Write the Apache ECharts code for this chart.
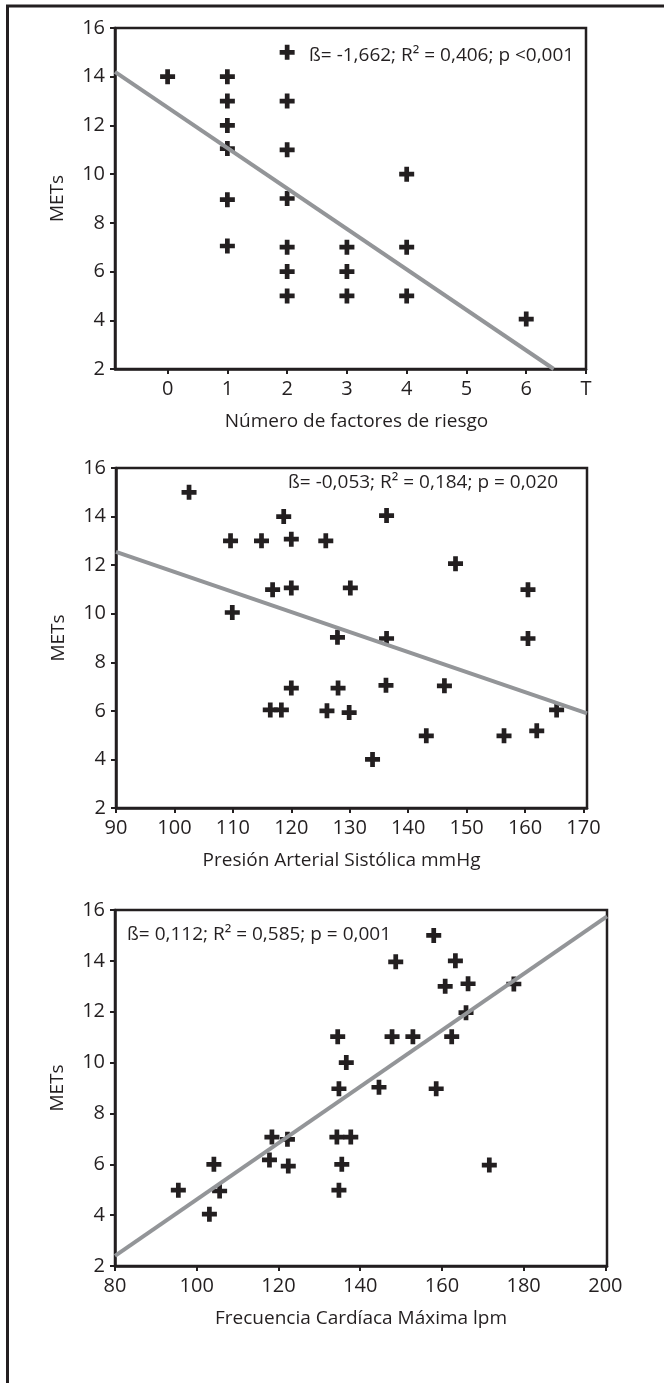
<!DOCTYPE html>
<html><head><meta charset="utf-8">
<script src="https://cdn.jsdelivr.net/npm/echarts@6/dist/echarts.min.js"></script>
<style>html,body{margin:0;padding:0;background:#fff}#c{width:664px;height:1383px}</style>
</head><body><div id="c"></div>
<script>
// ---- Chart 1: Número de factores de riesgo vs METs
const riskX = [0, 1, 1, 1, 1, 1, 1, 2, 2, 2, 2, 2, 2, 2, 3, 3, 3, 4, 4, 4, 6];
const riskY = [14, 14, 13, 12, 11.05, 8.95, 7.05, 15, 13, 11, 9, 7, 6, 5, 7, 6, 5, 10, 7, 5, 4.05];
const riskTicks = [0, 1, 2, 3, 4, 5, 6, 7];
const riskTickLabels = ['0', '1', '2', '3', '4', '5', '6', 'T'];
const riskFitX = [-0.88, 6.46];
const riskFitY = [14.2, 2];
const riskStat = 'ß= -1,662; R² = 0,406; p <0,001';

// ---- Chart 2: Presión Arterial Sistólica vs METs
const pasX = [102.5, 109.6, 114.9, 118.7, 120.0, 125.9, 136.3, 148.1, 116.8, 120.0, 130.1, 109.9, 160.5, 127.9, 136.3, 160.5, 120.0, 128.0, 136.2, 146.2, 116.4, 118.3, 126.1, 129.9, 165.4, 133.9, 143.1, 156.4, 162.0];
const pasY = [15.0, 13.0, 13.0, 14.0, 13.07, 13.0, 14.04, 12.06, 10.99, 11.06, 11.06, 10.05, 10.99, 9.03, 8.98, 8.98, 6.94, 6.94, 7.05, 7.03, 6.04, 6.04, 6.0, 5.93, 6.04, 4.0, 4.97, 4.97, 5.18];
const pasTicks = [90, 100, 110, 120, 130, 140, 150, 160, 170];
const pasFitX = [90, 170.6];
const pasFitY = [12.55, 5.9];
const pasStat = 'ß= -0,053; R² = 0,184; p = 0,020';

// ---- Chart 3: Frecuencia Cardíaca Máxima vs METs
const fcX = [95.5, 104.2, 105.6, 103.1, 118.4, 117.8, 122.2, 122.4, 134.5, 136.6, 134.8, 134.3, 137.7, 135.5, 134.8, 144.6, 147.8, 152.9, 148.7, 158.0, 163.3, 160.8, 166.4, 165.9, 162.4, 158.6, 171.6, 177.6];
const fcY = [4.98, 6.0, 4.95, 4.04, 7.07, 6.17, 6.98, 5.93, 11.02, 10.0, 8.97, 7.07, 7.07, 6.0, 4.98, 9.03, 11.02, 11.02, 13.96, 15.0, 14.0, 13.0, 13.1, 11.96, 11.02, 8.97, 5.97, 13.09];
const fcTicks = [80, 100, 120, 140, 160, 180, 200];
const fcFitX = [80, 200.4];
const fcFitY = [2.4, 15.75];
const fcStat = 'ß= 0,112; R² = 0,585; p = 0,001';

const yTicksMin = 2, yTicksMax = 16, yInterval = 2;
const yName = 'METs';
const xNames = ['Número de factores de riesgo', 'Presión Arterial Sistólica mmHg', 'Frecuencia Cardíaca Máxima lpm'];

const ink = '#231f20';
const fitColor = '#939598';
const FONT = 'Open Sans';
const plus = 'path://M4.8,0H9.2V4.8H14V9.2H9.2V14H4.8V9.2H0V4.8H4.8Z';

const grids = [
  {left: 115, top: 28, width: 471, height: 341},
  {left: 116, top: 468, width: 471, height: 340},
  {left: 115, top: 910, width: 492, height: 356}
].map(g => Object.assign(g, {show: true, borderColor: ink, borderWidth: 2.5, backgroundColor: 'transparent'}));

function xAxis(gi, min, max, ticks, labels, name, padL, padR) {
  return {
    type: 'value', gridIndex: gi, min: min, max: max,
    splitLine: {show: false},
    axisLine: {show: true, onZero: false, lineStyle: {color: ink, width: 2.5}},
    axisTick: {show: true, length: 5, customValues: ticks, lineStyle: {color: ink, width: 2}},
    axisLabel: {customValues: ticks, margin: 10, fontSize: 20, color: ink, fontFamily: FONT,
      formatter: v => { const i = ticks.indexOf(v); return labels ? labels[i] : String(v); }},
    name: name, nameLocation: 'middle', nameGap: 43,
    nameTextStyle: {fontSize: 19, color: ink, fontFamily: FONT, padding: [0, padR, 0, padL]}
  };
}
function yAxis(gi) {
  return {
    type: 'value', gridIndex: gi, min: yTicksMin, max: yTicksMax, interval: yInterval,
    splitLine: {show: false},
    axisLine: {show: true, onZero: false, lineStyle: {color: ink, width: 2.5}},
    axisTick: {show: true, length: 5, lineStyle: {color: ink, width: 2}},
    axisLabel: {margin: 10, fontSize: 20, color: ink, fontFamily: FONT},
    name: yName, nameLocation: 'middle', nameGap: 48, nameRotate: 90,
    nameTextStyle: {fontSize: 19, color: ink, fontFamily: FONT}
  };
}
function pts(xs, ys) { return xs.map((x, i) => [x, ys[i]]); }
function scatter(gi, xs, ys) {
  return {type: 'scatter', xAxisIndex: gi, yAxisIndex: gi, data: pts(xs, ys), symbol: plus, symbolSize: 15,
    itemStyle: {color: ink, opacity: 1}, z: 2, silent: true};
}
function fit(gi, xs, ys) {
  return {type: 'line', xAxisIndex: gi, yAxisIndex: gi, data: pts(xs, ys), showSymbol: false, symbol: 'none',
    lineStyle: {color: fitColor, width: 4}, z: 3, silent: true};
}

const chart = echarts.init(document.getElementById('c'), null, {renderer: 'canvas'});
chart.setOption({
  animation: false,
  backgroundColor: '#fff',
  grid: grids,
  xAxis: [
    xAxis(0, -0.88, 7, riskTicks, riskTickLabels, xNames[0], 12, 0),
    xAxis(1, 90, 170.6, pasTicks, null, xNames[1], 0, 20),
    xAxis(2, 80, 200.4, fcTicks, null, xNames[2], 0, 0)
  ],
  yAxis: [yAxis(0), yAxis(1), yAxis(2)],
  series: [
    scatter(0, riskX, riskY), fit(0, riskFitX, riskFitY),
    scatter(1, pasX, pasY), fit(1, pasFitX, pasFitY),
    scatter(2, fcX, fcY), fit(2, fcFitX, fcFitY)
  ],
  graphic: [
    {type: 'line', shape: {x1: 6, y1: 6, x2: 664, y2: 6}, style: {stroke: ink, lineWidth: 3}},
    {type: 'line', shape: {x1: 7.5, y1: 5, x2: 7.5, y2: 1383}, style: {stroke: ink, lineWidth: 3}},
    {type: 'text', left: 309, top: 46, style: {text: riskStat, fontSize: 19, fill: ink, fontFamily: FONT}},
    {type: 'text', left: 288, top: 473, style: {text: pasStat, fontSize: 19, fill: ink, fontFamily: FONT}},
    {type: 'text', left: 127, top: 925, style: {text: fcStat, fontSize: 19, fill: ink, fontFamily: FONT}}
  ]
});
</script></body></html>
